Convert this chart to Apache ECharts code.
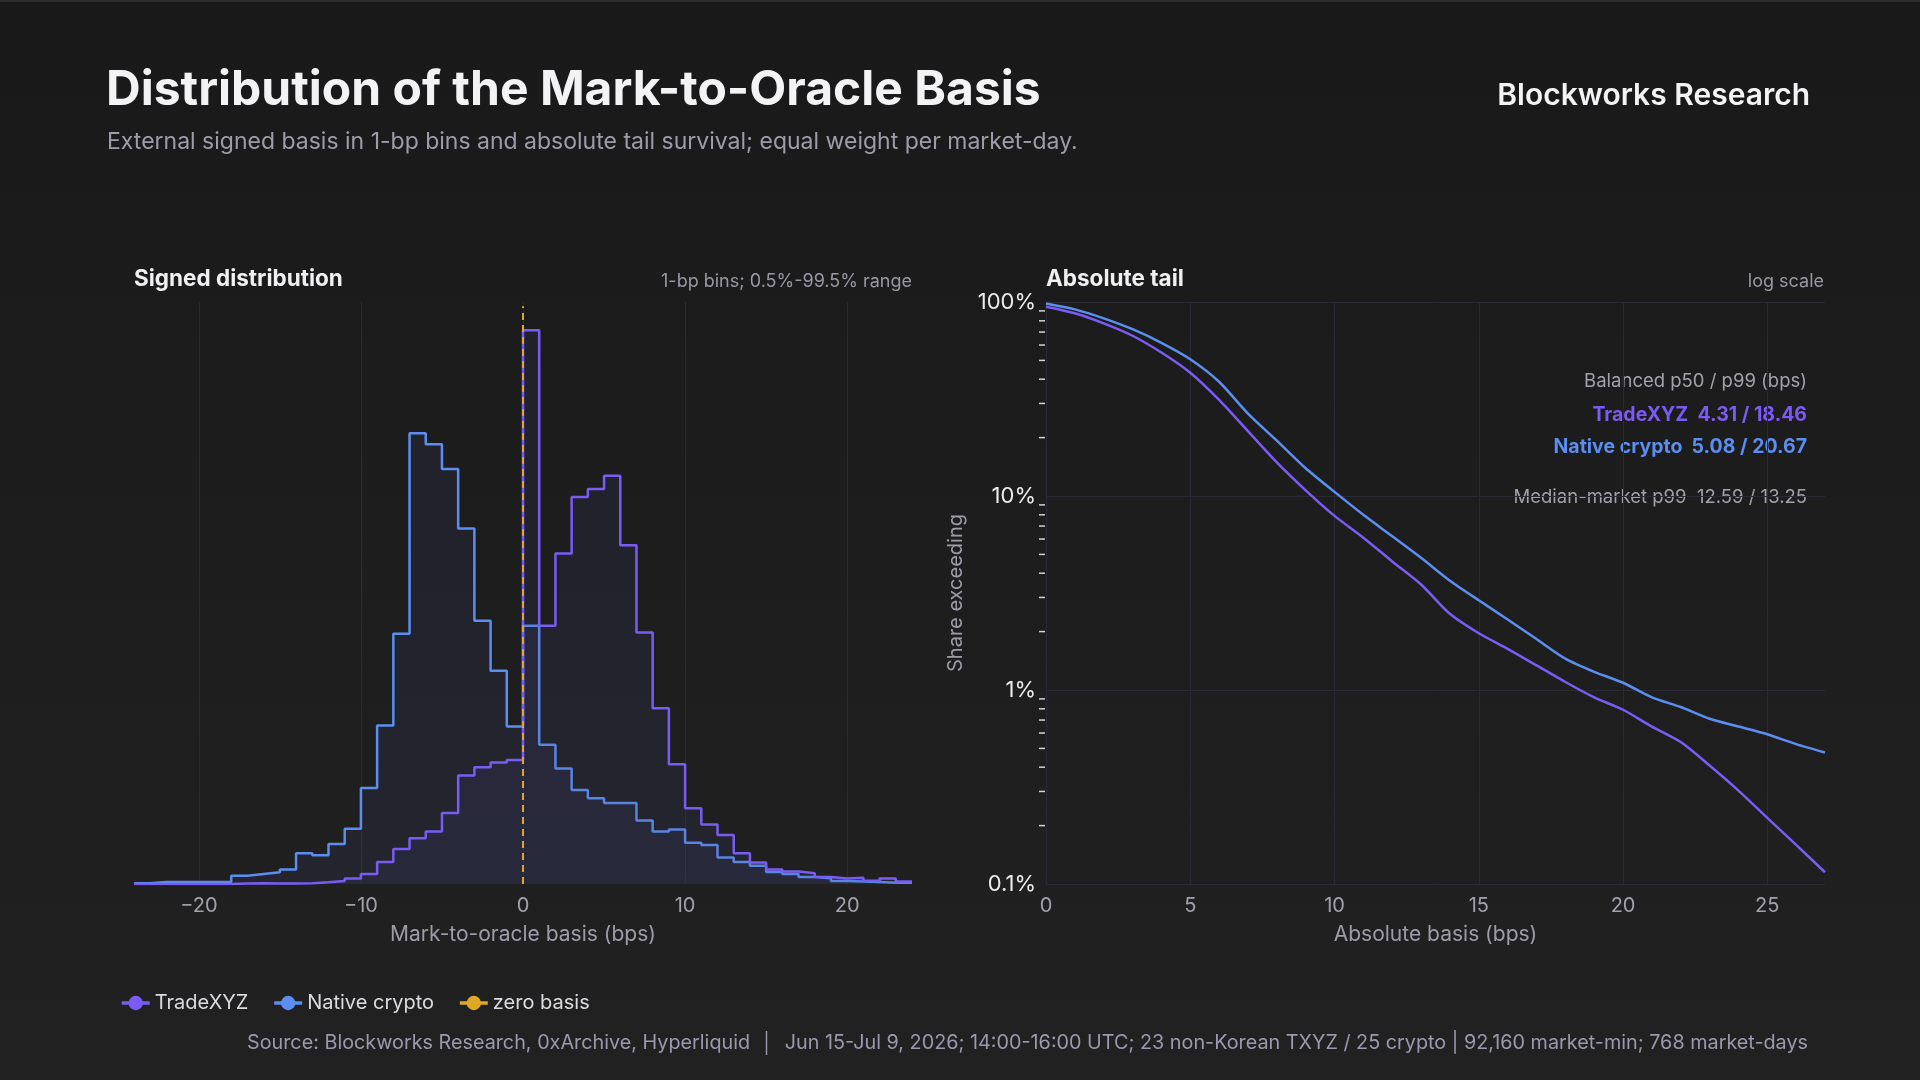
<!DOCTYPE html>
<html lang="en">
<head>
<meta charset="UTF-8">
<title>Distribution of the Mark-to-Oracle Basis</title>
<script src="https://cdn.jsdelivr.net/npm/echarts@6/dist/echarts.min.js"></script>
<style>
    html, body { margin: 0; padding: 0; background: #1b1b1b; }
    #chart { width: 1920px; height: 1080px; }
</style>
</head>
<body>
<div id="chart"></div>
<script>
    /* signed distribution, 1-bp bins (left edge of each bin), % of market-days */
    var binLeft = [-24, -23, -22, -21, -20, -19, -18, -17, -16, -15, -14, -13, -12, -11, -10, -9, -8, -7, -6, -5, -4, -3, -2, -1,
                   0, 1, 2, 3, 4, 5, 6, 7, 8, 9, 10, 11, 12, 13, 14, 15, 16, 17, 18, 19, 20, 21, 22, 23];
    var binRight = 24;
    var tradeHist = [0.00, 0.00, 0.00, 0.00, 0.00, 0.00, 0.01, 0.02, 0.01, 0.01, 0.02, 0.04, 0.07, 0.13, 0.24, 0.53, 0.84, 1.10, 1.26, 1.71, 2.61, 2.81, 2.92, 2.98,
                     13.32, 6.21, 7.95, 9.31, 9.50, 9.82, 8.15, 6.05, 4.23, 2.88, 1.82, 1.43, 1.18, 0.74, 0.52, 0.35, 0.30, 0.26, 0.17, 0.13, 0.15, 0.08, 0.13, 0.06];
    var nativeHist = [0.02, 0.05, 0.05, 0.05, 0.05, 0.05, 0.20, 0.24, 0.28, 0.35, 0.74, 0.69, 0.96, 1.33, 2.31, 3.81, 6.02, 10.84, 10.58, 9.98, 8.55, 6.33, 5.13, 3.79,
                      6.21, 3.35, 2.78, 2.26, 2.06, 1.95, 1.95, 1.53, 1.26, 1.31, 0.99, 0.94, 0.64, 0.53, 0.44, 0.29, 0.24, 0.17, 0.14, 0.07, 0.06, 0.05, 0.03, 0.03];
    var histTicks = [-20, -10, 0, 10, 20];

    /* absolute tail survival, share exceeding (%) */
    var tailX = [0, 1, 2, 3, 4, 5, 6, 7, 8, 9, 10, 11, 12, 13, 14, 15, 16, 17, 18, 19, 20, 21, 22, 23, 24, 25, 26, 27];
    var tradeTail = [94.6, 87.5, 77.6, 67.0, 54.9, 43.2, 31.3, 21.6, 14.9, 10.7, 7.9, 6.1, 4.6, 3.5, 2.47, 1.96, 1.63, 1.34, 1.10, 0.917, 0.791, 0.648, 0.539, 0.408, 0.303, 0.219, 0.159, 0.115];
    var nativeTail = [98.2, 91.6, 82.4, 72.4, 61.6, 50.7, 38.8, 26.6, 19.3, 13.9, 10.5, 8.0, 6.2, 4.8, 3.66, 2.90, 2.31, 1.83, 1.45, 1.24, 1.09, 0.917, 0.817, 0.711, 0.648, 0.591, 0.526, 0.476];
    var tailTicks = [0, 5, 10, 15, 20, 25];
    var logMinorTicks = [90, 80, 70, 60, 50, 40, 30, 20, 9, 8, 7, 6, 5, 4, 3, 2, 0.9, 0.8, 0.7, 0.6, 0.5, 0.4, 0.3, 0.2];

    var cPurple = '#7a5cf5';
    var cBlue = '#5b8ef0';
    var cGold = '#e0a626';
    var cGrid = '#2a2a36';
    var font = 'Inter, "Noto Sans", sans-serif';

    function stepData(vals) {
        var out = [];
        for (var i = 0; i < binLeft.length; i++) out.push([binLeft[i], vals[i]]);
        out.push([binRight, vals[vals.length - 1]]);
        return out;
    }
    function pairs(xs, ys) {
        return xs.map(function (x, i) { return [x, ys[i]]; });
    }
    function signed(v) {
        return v < 0 ? '\u2212' + Math.abs(v) : String(v);
    }

    var chart = echarts.init(document.getElementById('chart'), null, {renderer: 'canvas'});
    var option = {
        animation: false,
        backgroundColor: new echarts.graphic.LinearGradient(0, 0, 0, 1, [
            {offset: 0, color: '#191919'},
            {offset: 1, color: '#212121'}
        ]),
        textStyle: {fontFamily: font},
        grid: [
            {left: 134, top: 302, width: 778, height: 582},
            {left: 1046, top: 302, width: 779, height: 582}
        ],
        xAxis: [{
            gridIndex: 0, type: 'value', min: -24, max: 24,
            name: 'Mark-to-oracle basis (bps)', nameLocation: 'middle', nameGap: 40,
            nameTextStyle: {color: '#9e9ca8', fontSize: 21, fontFamily: font},
            axisLine: {show: false},
            axisTick: {show: false, customValues: histTicks},
            axisLabel: {customValues: histTicks, color: '#a3a1ab', fontSize: 20, margin: 12, fontFamily: font, formatter: signed},
            splitLine: {show: true, lineStyle: {color: cGrid, width: 1}}
        }, {
            gridIndex: 1, type: 'value', min: 0, max: 27,
            name: 'Absolute basis (bps)', nameLocation: 'middle', nameGap: 40,
            nameTextStyle: {color: '#9e9ca8', fontSize: 21, fontFamily: font},
            axisLine: {show: false},
            axisTick: {show: false, customValues: tailTicks},
            axisLabel: {customValues: tailTicks, color: '#a3a1ab', fontSize: 20, margin: 12, fontFamily: font},
            splitLine: {show: true, lineStyle: {color: cGrid, width: 1}}
        }],
        yAxis: [{
            gridIndex: 0, type: 'value', min: 0, max: 14,
            axisLine: {show: false}, axisTick: {show: false}, axisLabel: {show: false},
            splitLine: {show: false}
        }, {
            gridIndex: 1, type: 'log', logBase: 10, min: 0.1, max: 100,
            name: 'Share exceeding', nameLocation: 'middle', nameGap: 80,
            nameTextStyle: {color: '#9e9ca8', fontSize: 20, fontFamily: font},
            axisLine: {show: false}, axisTick: {show: false},
            axisLabel: {
                color: '#ececef', fontSize: 22, margin: 10, fontFamily: font,
                formatter: function (v) { return (+v.toPrecision(3)) + '%'; }
            },
            splitLine: {show: true, lineStyle: {color: cGrid, width: 1}}
        }],
        legend: {
            data: ['TradeXYZ', 'Native crypto', 'zero basis'],
            left: 115, top: 988,
            itemWidth: 28, itemHeight: 18, itemGap: 24,
            lineStyle: {type: 'solid', width: 3.5},
            textStyle: {color: '#dcdce0', fontSize: 20, fontFamily: font}
        },
        series: [{
            name: 'Native crypto', type: 'line', step: 'end',
            xAxisIndex: 0, yAxisIndex: 0,
            data: stepData(nativeHist),
            symbol: 'circle', showSymbol: false,
            lineStyle: {color: cBlue, width: 2.5},
            itemStyle: {color: cBlue},
            areaStyle: {color: 'rgba(72,72,140,0.2)'},
            z: 2
        }, {
            name: 'TradeXYZ', type: 'line', step: 'end',
            xAxisIndex: 0, yAxisIndex: 0,
            data: stepData(tradeHist),
            symbol: 'circle', showSymbol: false,
            lineStyle: {color: cPurple, width: 2.5},
            itemStyle: {color: cPurple},
            areaStyle: {color: 'rgba(72,72,140,0.2)'},
            z: 3
        }, {
            name: 'zero basis', type: 'line',
            xAxisIndex: 0, yAxisIndex: 0,
            data: [[0, 0], [0, 13.9]],
            symbol: 'circle', showSymbol: false,
            lineStyle: {color: cGold, width: 2, type: [7, 5]},
            itemStyle: {color: cGold},
            z: 5
        }, {
            name: 'TradeXYZ', type: 'line',
            xAxisIndex: 1, yAxisIndex: 1,
            data: pairs(tailX, tradeTail),
            symbol: 'circle', showSymbol: false, smooth: 0.25,
            lineStyle: {color: cPurple, width: 2.5},
            itemStyle: {color: cPurple},
            z: 3
        }, {
            name: 'Native crypto', type: 'line',
            xAxisIndex: 1, yAxisIndex: 1,
            data: pairs(tailX, nativeTail),
            symbol: 'circle', showSymbol: false, smooth: 0.25,
            lineStyle: {color: cBlue, width: 2.5},
            itemStyle: {color: cBlue},
            z: 3
        }, {
            name: 'minor ticks', type: 'custom',
            xAxisIndex: 1, yAxisIndex: 1,
            data: logMinorTicks.map(function (v) { return [0, v]; }),
            clip: false, silent: true, z: 4,
            renderItem: function (params, api) {
                var p = api.coord([0, api.value(1)]);
                return {
                    type: 'line',
                    shape: {x1: p[0] - 7, y1: p[1], x2: p[0] - 1, y2: p[1]},
                    style: {stroke: '#d4d4d8', lineWidth: 1.5}
                };
            }
        }],
        graphic: [
            {type: 'rect', left: 0, top: 0, shape: {width: 1920, height: 2}, style: {fill: '#2c2c31'}},
            {type: 'text', x: 106, y: 91, style: {text: 'Distribution of the Mark-to-Oracle Basis', font: '700 48px ' + font, fill: '#f3f3f6', align: 'left', verticalAlign: 'middle'}},
            {type: 'text', x: 107, y: 142, style: {text: 'External signed basis in 1-bp bins and absolute tail survival; equal weight per market-day.', font: '400 23px ' + font, fill: '#9f9caa', align: 'left', verticalAlign: 'middle'}},
            {type: 'text', x: 1810, y: 96, style: {text: 'Blockworks Research', font: '600 30px ' + font, fill: '#f3f3f6', align: 'right', verticalAlign: 'middle'}},
            {type: 'text', x: 134, y: 279, style: {text: 'Signed distribution', font: '700 22.5px ' + font, fill: '#f0f0f2', align: 'left', verticalAlign: 'middle'}},
            {type: 'text', x: 912, y: 282, style: {text: '1-bp bins; 0.5%-99.5% range', font: '400 18px ' + font, fill: '#9a98a3', align: 'right', verticalAlign: 'middle'}},
            {type: 'text', x: 1046, y: 279, style: {text: 'Absolute tail', font: '700 22.5px ' + font, fill: '#f0f0f2', align: 'left', verticalAlign: 'middle'}},
            {type: 'text', x: 1824, y: 282, style: {text: 'log scale', font: '400 18px ' + font, fill: '#9a98a3', align: 'right', verticalAlign: 'middle'}},
            {type: 'text', x: 1807, y: 381, style: {text: 'Balanced p50 / p99 (bps)', font: '400 18.5px ' + font, fill: '#a3a1ab', align: 'right', verticalAlign: 'middle'}},
            {type: 'text', x: 1807, y: 415, style: {text: 'TradeXYZ  4.31 / 18.46', font: '700 19.5px ' + font, fill: cPurple, align: 'right', verticalAlign: 'middle'}},
            {type: 'text', x: 1807, y: 447, style: {text: 'Native crypto  5.08 / 20.67', font: '700 19.5px ' + font, fill: cBlue, align: 'right', verticalAlign: 'middle'}},
            {type: 'text', x: 1807, y: 497, style: {text: 'Median-market p99  12.59 / 13.25', font: '400 18.5px ' + font, fill: '#a3a1ab', align: 'right', verticalAlign: 'middle'}},
            {type: 'text', x: 1808, y: 1043, style: {text: 'Source: Blockworks Research, 0xArchive, Hyperliquid  \u2502  Jun 15-Jul 9, 2026; 14:00-16:00 UTC; 23 non-Korean TXYZ / 25 crypto | 92,160 market-min; 768 market-days', font: '400 19.8px ' + font, fill: '#9c98ae', align: 'right', verticalAlign: 'middle'}}
        ]
    };
    chart.setOption(option);
</script>
</body>
</html>
